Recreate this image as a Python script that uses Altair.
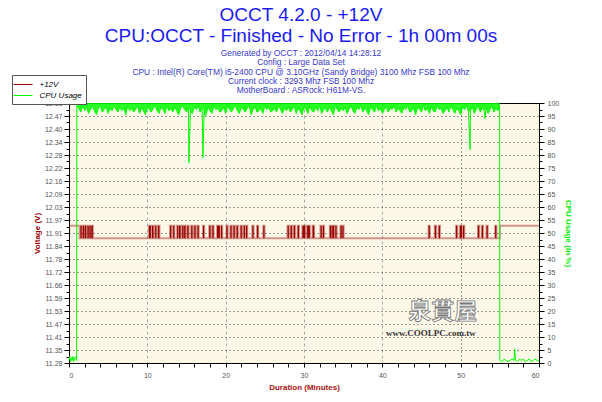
import altair as alt
import pandas as pd

TITLE = ["OCCT 4.2.0 - +12V", "CPU:OCCT - Finished - No Error - 1h 00m 00s"]
SUBTITLE = [
    "Generated by OCCT : 2012/04/14 14:28:12",
    "Config : Large Data Set",
    "CPU : Intel(R) Core(TM) i5-2400 CPU @ 3.10GHz (Sandy Bridge) 3100 Mhz FSB 100 Mhz",
    "Current clock : 3293 Mhz FSB 100 Mhz",
    "MotherBoard : ASRock: H61M-VS.",
]
SERIES = ["+12V", "CPU Usage"]

# ---- voltage axis labels (left) ----
volt_labels = ["11.28", "11.35", "11.41", "11.47", "11.53", "11.59", "11.66", "11.72",
               "11.78", "11.84", "11.91", "11.97", "12.03", "12.09", "12.16", "12.22",
               "12.28", "12.34", "12.40", "12.47", "12.53"]
volt_min, volt_max = 11.28, 12.53

# ---- +12V readings ----
volt_low, volt_high = 11.88, 11.94
volt_start_high_end = 1.35      # minutes
volt_end_high_start = 55.0      # minutes
volt_spike_start = [1.45, 1.75, 2.0, 2.35, 2.6, 2.85, 10.2, 10.6, 11.0, 11.35, 12.9, 13.3,
                    13.8, 14.05, 14.45, 14.7, 15.1, 15.6, 16.0, 16.4, 17.1, 17.9, 18.3, 18.9,
                    19.4, 20.1, 20.6, 21.0, 21.4, 21.9, 22.3, 22.6, 23.4, 24.0, 24.8, 27.9,
                    28.3, 28.7, 29.2, 29.8, 30.4, 31.1, 32.1, 32.4, 33.3, 33.6, 34.0, 34.65,
                    34.9, 45.9, 46.7, 47.2, 49.4, 49.9, 50.3, 52.2, 52.7, 53.3, 54.4]
volt_spike_end = [1.62, 1.92, 2.2, 2.52, 2.77, 3.05, 10.45, 10.78, 11.15, 11.55, 13.05, 13.45,
                  13.95, 14.25, 14.62, 14.88, 15.27, 15.76, 16.16, 16.56, 17.26, 18.06, 18.46, 19.25,
                  19.56, 20.26, 20.76, 21.16, 21.56, 22.06, 22.46, 22.76, 23.56, 24.16, 24.96, 28.06,
                  28.46, 28.86, 29.36, 30.15, 30.75, 31.3, 32.26, 32.56, 33.5, 33.85, 34.16, 34.82,
                  35.06, 46.06, 46.86, 47.36, 49.56, 50.15, 50.46, 52.36, 52.86, 53.46, 54.56]

# ---- CPU usage readings ----
cpu_start_t = [0.0, 0.1, 0.2, 0.3, 0.4, 0.5, 0.6, 0.7, 0.8, 0.9, 0.97, 1.0]
cpu_start_v = [1.0, 2.5, 0.5, 2.0, 1.0, 2.5, 0.5, 2.0, 1.5, 2.5, 1.0, 99.0]
cpu_run_first, cpu_run_step = 1.25, 0.25
cpu_run_v = [
    98, 96.5, 99, 97, 98.5, 96, 97.5, 99, 97, 95.5, 98, 99, 96.5, 97.5, 98.5, 96, 98, 97, 99, 97.5,
    96.5, 98.5, 97, 98, 95.5, 99, 97, 98, 96.5, 97.5, 99, 96, 98, 97, 95.5, 98.5, 97.5, 96.5, 98, 99,
    97, 96, 98.5, 97.5, 96, 99, 97, 98, 96.5, 98.5, 97, 95.5, 98, 99, 97.5, 96.5, 98, 97, 96, 98.5,
    97.5, 99, 96.5, 98, 97, 95.5, 98.5, 97, 96, 99, 97.5, 98, 96.5, 97, 98.5, 96, 99, 97.5, 96.5, 98,
    99, 97, 96, 98.5, 97.5, 96.5, 98, 99, 95.5, 97.5, 98.5, 96.5, 97, 98, 96, 99, 97.5, 98.5, 96.5, 97,
    98, 96.5, 99, 97.5, 96, 98, 97, 98.5, 96.5, 97.5, 99, 96, 98, 97, 95.5, 98.5, 97.5, 96, 99, 97,
    96.5, 98.5, 97, 99, 96, 97.5, 98, 96.5, 98.5, 97, 95.5, 99, 97.5, 96.5, 98, 97, 98.5, 96, 97.5, 99,
    97, 96, 98.5, 97.5, 99, 96.5, 98, 97, 95.5, 98.5, 97.5, 96.5, 99, 97, 98, 96, 97.5, 98.5, 96.5, 98,
    97.5, 99, 96.5, 98, 97, 96, 98.5, 97.5, 99, 96.5, 97, 98, 95.5, 98.5, 97.5, 96.5, 99, 97, 98, 96,
    98.5, 97, 96.5, 99, 97.5, 98, 96, 97, 98.5, 96.5, 99, 97.5, 96, 98, 97, 95.5, 98.5, 97.5, 99, 96.5,
    97, 98.5, 96, 97.5, 99, 96.5, 98, 97, 98.5, 96, 97.5, 99, 96.5, 98, 97, 98.5, 96, 97.5, 99, 97,
]
cpu_dip_t = [15.3, 17.1, 17.35, 51.2, 53.1]
cpu_dip_v = [77, 79, 95, 82, 94]
cpu_end_t = [54.97, 55.0, 55.3, 55.55, 55.8, 56.05, 56.3, 56.55, 56.8, 56.9, 57.0, 57.25, 57.5,
             57.75, 58.0, 58.25, 58.5, 58.75, 59.0, 59.25, 59.5, 59.75, 60.0]
cpu_end_v = [99, 1.0, 0.5, 1.5, 1.0, 0.5, 1.0, 1.5, 1.0, 5.4, 1.0, 0.5, 1.5, 1.0, 1.5, 0.5,
             1.0, 1.5, 0.5, 1.0, 1.5, 1.0, 1.0]

# watermark
wm_big_t, wm_big_v, wm_big_txt = [47.7], [19.6], ["泉貫屋"]
wm_small_t, wm_small_v, wm_small_txt = [46.2], [11.5], ["www.COOLPC.com.tw"]

# ---------------- build tables ----------------
vt = [0.0, volt_start_high_end]
vv = [volt_high, volt_low]
for s, e in zip(volt_spike_start, volt_spike_end):
    vt += [s, e]
    vv += [volt_high, volt_low]
vt += [volt_end_high_start, 60.0]
vv += [volt_high, volt_high]
volt_df = pd.DataFrame({"t": vt, "v": vv, "series": SERIES[0]})
spike_df = pd.DataFrame({"t": volt_spike_start, "t2": volt_spike_end,
                         "v": volt_low, "v2": volt_high})

run_t = [cpu_run_first + i * cpu_run_step for i in range(len(cpu_run_v))]
run_t = [t for t in run_t if t < 54.97]
run_v = cpu_run_v[:len(run_t)]
cpu_t = cpu_start_t + run_t + cpu_dip_t + cpu_end_t
cpu_v = cpu_start_v + run_v + cpu_dip_v + cpu_end_v
cpu_df = pd.DataFrame({"t": cpu_t, "v": cpu_v, "series": SERIES[1]}).sort_values("t")
band_df = pd.DataFrame({"t": [1.0] + run_t + [54.97], "v": [99.0] + run_v + [99.0], "top": 100.0})

wm1 = pd.DataFrame({"t": wm_big_t, "v": wm_big_v, "txt": wm_big_txt})
wm2 = pd.DataFrame({"t": wm_small_t, "v": wm_small_v, "txt": wm_small_txt})

# ---------------- axes ----------------
FONT = "Liberation Sans"
half = (volt_max - volt_min) / 40
volt_vals = [volt_min + i * half for i in range(41)]
lab_arr = "[" + ",".join("'" + s + "'" for s in volt_labels) + "]"
idx = f"round((datum.value - {volt_min}) / {half})"
volt_axis = alt.Axis(
    orient="left", values=volt_vals,
    labelExpr=f"({idx} % 2 == 0) ? {lab_arr}[{idx} / 2] : ''",
    title="Voltage (V)", titleColor="#990000", titlePadding=3,
    tickColor="black", domainColor="black",
    tickSize={"condition": {"test": f"{idx} % 2 == 0", "value": 5}, "value": 3},
    grid=True, gridColor="#444", gridDash=[1, 3],
    gridOpacity={"condition": {"test": f"{idx} % 2 == 0 && {idx} > 0 && {idx} < 40", "value": 1}, "value": 0},
    labelPadding=2,
)
cpu_vals = [i * 2.5 for i in range(41)]
cpu_axis = alt.Axis(
    orient="right", values=cpu_vals,
    labelExpr="datum.value % 5 == 0 ? datum.label : ''",
    title="CPU Usage (in %)", titleColor="#00ee00", titlePadding=5,
    tickColor="black", domainColor="black",
    tickSize={"condition": {"test": "datum.value % 5 == 0", "value": 5}, "value": 3},
    grid=False, labelPadding=3,
)
x_axis = alt.Axis(
    values=list(range(0, 61, 2)),
    labelExpr="datum.value % 10 == 0 ? datum.label : ''",
    title="Duration (Minutes)", titleColor="#aa1111", titlePadding=5,
    tickColor="black", domainColor="black", tickSize=4, labelPadding=4,
    grid=True,
    gridColor={"condition": {"test": "datum.value == 50", "value": "#333"}, "value": "#aaa"},
    gridDash={"condition": {"test": "datum.value == 50", "value": [1, 3]}, "value": [3, 3]},
    gridOpacity={"condition": {"test": "datum.value % 10 == 0 && datum.value > 0 && datum.value < 60", "value": 1}, "value": 0},
)

xs = alt.Scale(domain=[0, 60], nice=False, zero=False)
ys_v = alt.Scale(domain=[volt_min, volt_max], nice=False, zero=False)
ys_c = alt.Scale(domain=[0, 100], nice=False)
X = alt.X("t:Q", scale=xs, axis=x_axis)

color = alt.Color("series:N",
                  scale=alt.Scale(domain=SERIES, range=["#990000", "#00ff00"]),
                  legend=alt.Legend(orient="none", legendX=-57, legendY=-28, title=None,
                                    symbolType="M-1.9,0H1.9", symbolSize=100, symbolStrokeWidth=1,
                                    symbolOpacity=1, symbolOffset=1.5, labelFont=FONT, labelFontSize=8,
                                    labelFontStyle="italic", labelColor="black",
                                    fillColor="white", strokeColor="#555", padding=4,
                                    rowPadding=1, labelOffset=11))

volt_line = alt.Chart(volt_df).mark_line(interpolate="step-after", strokeWidth=2, opacity=0.4).encode(
    x=X, y=alt.Y("v:Q", scale=ys_v, axis=volt_axis), color=color)
volt_rect = alt.Chart(spike_df).mark_rect(color="#990000").encode(
    x=X, x2="t2:Q", y=alt.Y("v:Q", scale=ys_v, axis=volt_axis), y2="v2:Q")
volt_layer = alt.layer(volt_line, volt_rect)

cpu_band = alt.Chart(band_df).mark_area(color="#00ff00", opacity=0.85).encode(
    x=X, y=alt.Y("v:Q", scale=ys_c, axis=cpu_axis), y2="top:Q")
cpu_line = alt.Chart(cpu_df).mark_line(strokeWidth=1).encode(
    x=X, y=alt.Y("v:Q", scale=ys_c, axis=cpu_axis), color=color)
wm_a = alt.Chart(wm1).mark_text(font="Noto Sans CJK TC", fontSize=23, fontWeight="bold",
                                 fill="white", stroke="#777", strokeWidth=0.8).encode(
    x=X, y=alt.Y("v:Q", scale=ys_c, axis=cpu_axis), text="txt:N")
wm_b = alt.Chart(wm2).mark_text(font="Liberation Serif", fontSize=9, fontWeight="bold",
                                 color="#333").encode(
    x=X, y=alt.Y("v:Q", scale=ys_c, axis=cpu_axis), text="txt:N")
cpu_layer = alt.layer(wm_a, wm_b, cpu_band, cpu_line)

chart = alt.layer(volt_layer, cpu_layer).resolve_scale(y="independent").properties(
    width=470, height=260,
    autosize=alt.AutoSizeParams(type="none"),
    padding={"left": 61, "top": 95, "right": 55, "bottom": 31},
    title=alt.TitleParams(text=TITLE, subtitle=SUBTITLE, font=FONT, fontSize=19,
                          fontWeight="normal", color="#1a1af0", lineHeight=21,
                          subtitleFont=FONT, subtitleFontSize=8.4, subtitleColor="#3838cc",
                          subtitleLineHeight=9.25, subtitlePadding=3, anchor="middle",
                          offset=-20, dx=-3),
).configure(background="white").configure_view(fill="#fdf7e7", stroke="black", strokeWidth=1).configure_axis(
    labelFont=FONT, labelFontSize=7, labelColor="#555", titleFont=FONT, titleFontSize=8,
    titleFontWeight="bold")

chart.save("out.html", embed_options={"renderer": "svg", "actions": False})
